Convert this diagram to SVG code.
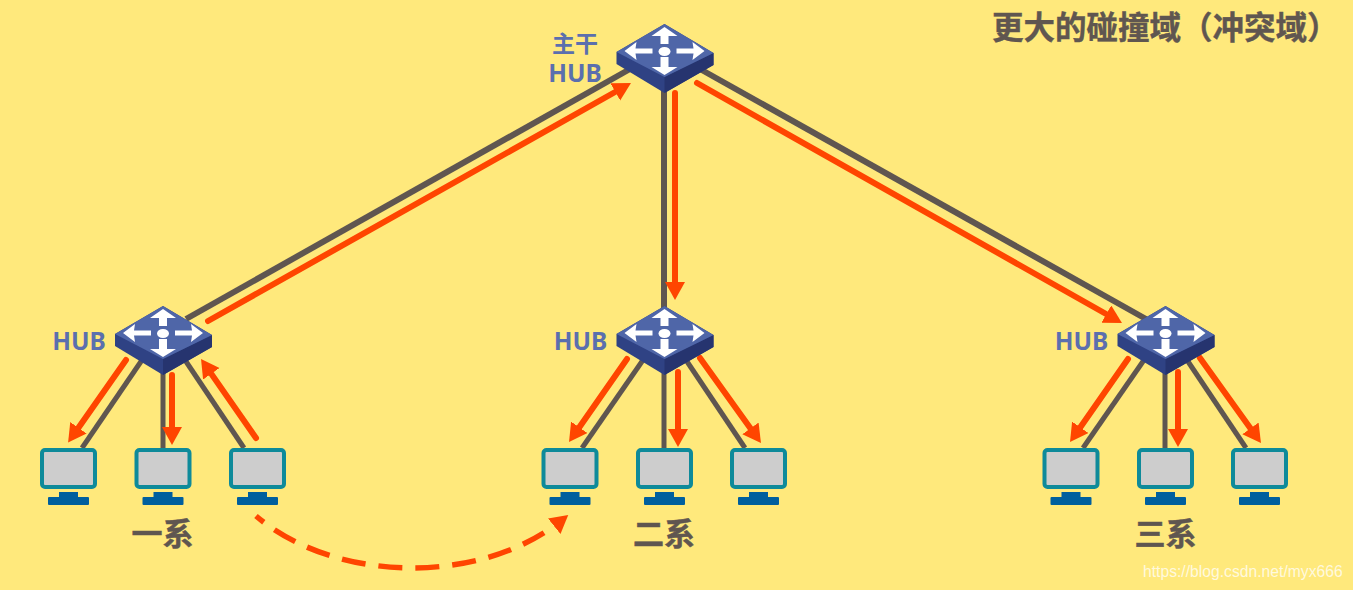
<svg xmlns="http://www.w3.org/2000/svg" xmlns:xlink="http://www.w3.org/1999/xlink" width="1353" height="590" viewBox="0 0 1353 590">
<style>
.link{stroke:#5f5650;stroke-width:5;fill:none}
.main{stroke-width:6}
.flow{stroke:#ff4500;stroke-width:6;fill:none;stroke-linecap:round;marker-end:url(#arrow)}
.dash{stroke:#ff4500;stroke-width:5.5;fill:none;stroke-dasharray:24 13;stroke-dashoffset:14;marker-end:url(#arrow)}
.hublabel{font:bold 24.5px "Noto Sans","Liberation Sans",sans-serif;fill:#5b6fae;text-anchor:middle}
.cn{font-family:"Noto Sans CJK SC","Liberation Sans",sans-serif;font-weight:700}
.group{font-size:31px;fill:#5f5650;text-anchor:middle;stroke:#5f5650;stroke-width:.5}
</style>
<defs>
<marker id="arrow" markerUnits="userSpaceOnUse" markerWidth="22" markerHeight="22" refX="10" refY="10" orient="auto">
<path d="M0 0L18 10L0 20z" fill="#ff4500"/>
</marker>
<g id="hub">
<path d="M0 0L49 29V41L0 69L-48 40V28z" fill="#2f4284"/>
<path d="M0 53L49 29V41L0 69z" fill="#26346f"/>
<path d="M0 0L49 29L0 53L-48 28z" fill="#4f66a8"/>
<g fill="#fff" stroke="none">
<ellipse cx="0" cy="27.500" rx="6" ry="4.500"/>
<path d="M0 3L13 12H4V20H-4V12H-13z"/>
<path d="M0 51L13 43H4V33H-4V43H-13z"/>
<path d="M40 27L28 18L29 24.500H12V29.500H29L28 36z"/>
<path d="M-40 27L-28 18L-29 24.500H-12V29.500H-29L-28 36z"/>
</g>
</g>
<g id="pc">
<rect x="2" y="2" width="53" height="37" rx="3" fill="#cdcdcd" stroke="#0e8a9a" stroke-width="4"/>
<rect x="19" y="44" width="19" height="6" fill="#005f9e"/>
<rect x="8" y="49" width="41" height="8" rx="1" fill="#005f9e"/>
</g>
</defs>
<rect width="1353" height="590" fill="#ffe97c"/>
<g id="connectors">
<path class="link main" d="M186 319L630 69"/>
<path class="link main" d="M664 60V340"/>
<path class="link main" d="M700 69L1146 319"/>
<path class="link" d="M142 360L82 448"/>
<path class="link" d="M163 360V448"/>
<path class="link" d="M185 360L244 448"/>
<path class="link" d="M643 360L582 448"/>
<path class="link" d="M664 360V448"/>
<path class="link" d="M686 360L745 448"/>
<path class="link" d="M1144 360L1083 448"/>
<path class="link" d="M1165 360V448"/>
<path class="link" d="M1187 360L1246 448"/>
<path class="flow" d="M208 321L624 87"/>
<path class="flow" d="M675 93V292"/>
<path class="flow" d="M697 83L1115 319"/>
<path class="flow" d="M126 360L72.700 436"/>
<path class="flow" d="M172 375V437"/>
<path class="flow" d="M256 438L205.600 365.600"/>
<path class="flow" d="M627 359L573.600 435.500"/>
<path class="flow" d="M678 372V439"/>
<path class="flow" d="M700 358L756.300 436.500"/>
<path class="flow" d="M1128 359L1074.600 435.500"/>
<path class="flow" d="M1178 372V439"/>
<path class="flow" d="M1200 358L1256.300 436.500"/>
<path class="dash" d="M256 516C335 583 480 586 562 520"/>
</g>
<g id="hub-main"><use xlink:href="#hub" href="#hub" x="664.500" y="24"/><text class="hublabel cn" x="575" y="52" style="font-size:23px;font-family:'Noto Sans CJK SC',sans-serif">主干</text><text class="hublabel" x="575" y="82">HUB</text></g>
<g id="hub-1"><use xlink:href="#hub" href="#hub" x="163" y="306"/><text class="hublabel" x="79" y="350">HUB</text></g>
<g id="hub-2"><use xlink:href="#hub" href="#hub" x="664.500" y="306"/><text class="hublabel" x="580.500" y="350">HUB</text></g>
<g id="hub-3"><use xlink:href="#hub" href="#hub" x="1165.500" y="306"/><text class="hublabel" x="1081.500" y="350">HUB</text></g>
<g id="pc-1a"><use xlink:href="#pc" href="#pc" x="40" y="448"/></g>
<g id="pc-1b"><use xlink:href="#pc" href="#pc" x="134.500" y="448"/></g>
<g id="pc-1c"><use xlink:href="#pc" href="#pc" x="229" y="448"/></g>
<g id="pc-2a"><use xlink:href="#pc" href="#pc" x="541.500" y="448"/></g>
<g id="pc-2b"><use xlink:href="#pc" href="#pc" x="636" y="448"/></g>
<g id="pc-2c"><use xlink:href="#pc" href="#pc" x="730" y="448"/></g>
<g id="pc-3a"><use xlink:href="#pc" href="#pc" x="1042.500" y="448"/></g>
<g id="pc-3b"><use xlink:href="#pc" href="#pc" x="1137" y="448"/></g>
<g id="pc-3c"><use xlink:href="#pc" href="#pc" x="1231" y="448"/></g>
<g id="labels">
<text class="cn group" x="162.500" y="545">一系</text>
<text class="cn group" x="664" y="545">二系</text>
<text class="cn group" x="1165.500" y="545">三系</text>
<text class="cn" x="992" y="39" font-size="31.500" fill="#5f5650" stroke="#5f5650" stroke-width=".4">更大的碰撞域（冲突域）</text>
<text x="1143" y="577" font-family="'Liberation Sans',sans-serif" font-size="15.700" fill="#fff" fill-opacity=".75">https://blog.csdn.net/myx666</text>
</g>
</svg>
